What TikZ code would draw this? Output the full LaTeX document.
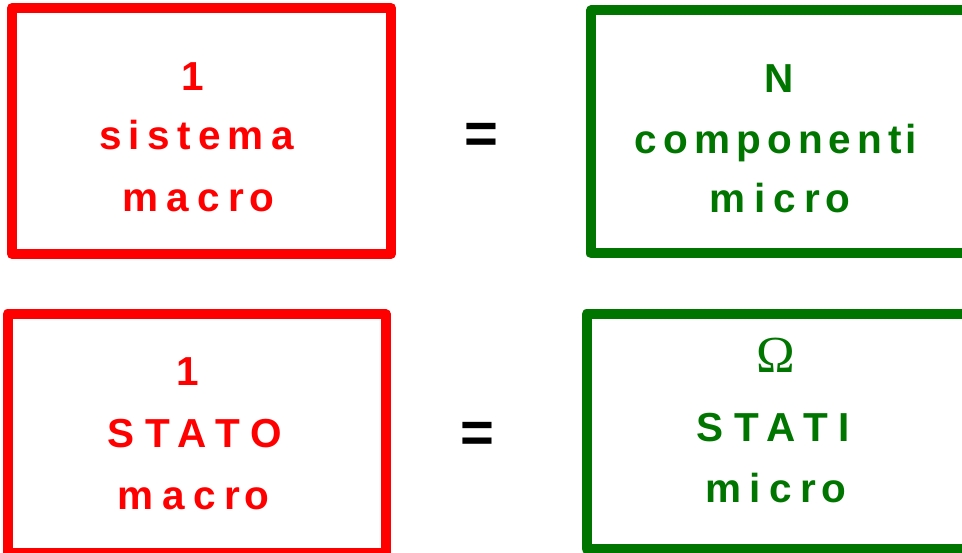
\documentclass[tikz,border=0pt]{standalone}
\usepackage{fontspec}
\newfontfamily\boxfont{Liberation Sans Bold}[LetterSpace=15]
\newfontfamily\eqfont{Liberation Sans Bold}
\newfontfamily\omfont{Liberation Serif}
\newcommand\lsp[1]{\addfontfeature{LetterSpace=#1}}
\definecolor{myred}{RGB}{255,0,0}
\definecolor{mygreen}{RGB}{0,118,0}
\tikzset{
  framebox/.style={line width=10pt, line join=round, inner sep=0pt, outer sep=0pt},
  redbox/.style={framebox, draw=myred},
  greenbox/.style={framebox, draw=mygreen},
  txt/.style={anchor=base, inner sep=0pt, font=\boxfont\fontsize{40.5}{48}\selectfont},
  rtxt/.style={txt, text=myred},
  gtxt/.style={txt, text=mygreen},
  eqsign/.style={anchor=base, inner sep=0pt, font=\eqfont\fontsize{58}{60}\selectfont, text=black},
}
\begin{document}
\begin{tikzpicture}[x=1pt, y=-1pt]
\useasboundingbox (0,0) rectangle (962,553);
\clip (0,0) rectangle (962,553);
% boxes
\node[redbox, minimum width=379pt, minimum height=246pt] (sysbox) at (201.5,131) {};
\node[greenbox, minimum width=390pt, minimum height=243pt] (compbox) at (786,132) {};
\node[redbox, minimum width=378.5pt, minimum height=238.5pt] (statobox) at (196.75,433.75) {};
\node[greenbox, minimum width=390pt, minimum height=234.5pt] (statibox) at (781.5,431.75) {};
% top-left text
\node[rtxt] (one1) at (193,91) {1};
\node[rtxt] (sistema) at (196.5,150) {\lsp{18}sistema};
\node[rtxt] (macro1) at (198.5,212) {\lsp{21}macr\kern5pt o};
% top-right text
\node[gtxt] (nn) at (779.5,92.7) {N};
\node[gtxt] (componenti) at (776,154) {component\kern4pt i};
\node[gtxt] (micro1) at (780,213) {\lsp{21}micr\kern5pt o};
% bottom-left text
\node[rtxt] (one2) at (188,385.7) {1};
\node[rtxt] (stato) at (194.5,447) {\lsp{27}STATO};
\node[rtxt] (macro2) at (193.6,509) {\lsp{21}macr\kern5pt o};
% bottom-right text
\node[anchor=base, inner sep=0pt, text=mygreen, font=\omfont\fontsize{52}{56}\selectfont] (omega) at (776,373) {Ω};
\node[gtxt] (stati) at (773.5,441.7) {\lsp{26}STATI};
\node[gtxt] (micro2) at (775.5,502) {\lsp{21}micr\kern5pt o};
% equals
\node[eqsign] (eq1) at (481.7,154) {=};
\node[eqsign] (eq2) at (477.5,452.5) {=};
\end{tikzpicture}
\end{document}
